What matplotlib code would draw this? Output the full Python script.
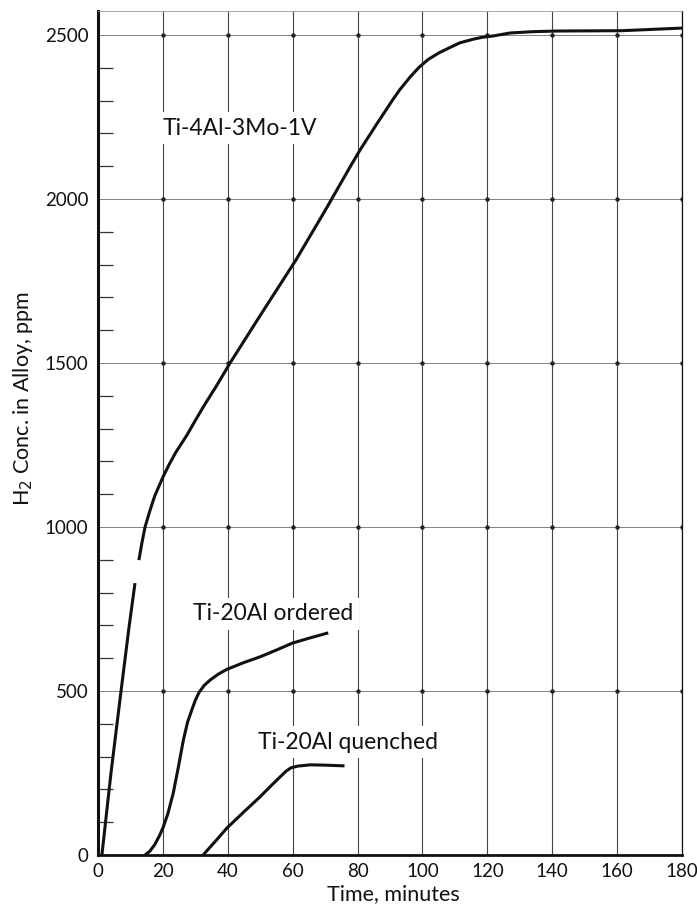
"""H2 uptake of titanium alloys versus time (recreated scanned chart)."""

import matplotlib
matplotlib.use("Agg")
import matplotlib.pyplot as plt
import numpy as np

# Ti-4Al-3Mo-1V, with the small break in the trace near 850 ppm
ti4al_time = [1.2, 4.0, 7.1, 9.5, 11.4, np.nan,
              12.6, 13.5, 14.5, 16.0, 17.5, 20.0, 22.0, 24.0, 27.4, 30.0,
              33.0, 36.5, 40.7, 50.0, 61.0, 70.0, 77.7, 80.8, 86.0, 91.0,
              93.0, 96.2, 98.8, 101.7, 105.0, 108.5, 111.5, 115.6, 118.5,
              121.8, 127.0, 134.0, 141.5, 161.5, 180.0]
ti4al_conc = [0, 250, 500, 690, 829, np.nan,
              899, 950, 1000, 1050, 1095, 1152, 1192, 1228, 1280, 1325,
              1375, 1430, 1500, 1645, 1814, 1965, 2098, 2150, 2230, 2305,
              2333, 2372, 2400, 2425, 2445, 2462, 2476, 2487, 2493,
              2497, 2506, 2510, 2512, 2513, 2521]

ordered_time = [14.5, 16.0, 17.5, 19.0, 20.1, 21.5, 23.2, 24.8, 26.3,
                27.6, 28.9, 30.0, 31.1, 32.7, 34.5, 37.0, 39.7, 45.0,
                49.9, 55.0, 59.9, 65.0, 70.5]
ordered_conc = [0, 12, 32, 60, 85, 125, 189, 270, 350,
                405, 442, 472, 495, 517, 533, 551, 566, 587,
                604, 625, 646, 661, 676]

quenched_time = [32.4, 34.0, 36.0, 39.7, 45.0, 49.9, 53.0, 56.1, 58.0,
                 59.5, 61.5, 65.4, 70.0, 75.5]
quenched_conc = [0, 18, 40, 82, 132, 177, 208, 238, 256,
                 266, 271, 275, 274, 272]

x_ticks = [0, 20, 40, 60, 80, 100, 120, 140, 160, 180]
x_tick_labels = ["0", "20", "40", "60", "80", "100", "120", "140", "160", "180"]
y_ticks = [0, 500, 1000, 1500, 2000, 2500]

labels = [
    ("Ti-4Al-3Mo-1V", 20.0, 2216),
    ("Ti-20Al ordered", 29.3, 735),
    ("Ti-20Al quenched", 49.3, 344),
]

plt.rcParams["font.family"] = ["Lato", "DejaVu Sans"]

fig = plt.figure(figsize=(6.97, 9.10), dpi=100)
ax = fig.add_axes([0.1406, 0.0604, 0.838, 0.9275])

ink = "#111111"
ax.plot(ti4al_time, ti4al_conc, color=ink, linewidth=2.2,
        solid_capstyle="butt", zorder=4)
ax.plot(ordered_time, ordered_conc, color=ink, linewidth=2.2, zorder=4)
ax.plot(quenched_time, quenched_conc, color=ink, linewidth=2.2, zorder=4)

# grid with the small dots the printed graph paper shows at crossings
for xv in x_ticks[1:]:
    ax.axvline(xv, color="#444444", linewidth=0.8, zorder=0)
for yv in y_ticks[1:]:
    ax.axhline(yv, color="#808080", linewidth=0.7, zorder=0)
gx, gy = np.meshgrid(x_ticks[1:], y_ticks[1:])
ax.plot(gx.ravel(), gy.ravel(), linestyle="none", marker="o",
        markersize=2.2, color="#222222", zorder=1)

for text, xv, yv in labels:
    ax.text(xv, yv, text, fontsize=16.5, color=ink, ha="left", va="center",
            bbox=dict(facecolor="white", edgecolor="none", pad=4), zorder=2)

ax.set_xlim(0, 180)
ax.set_ylim(0, 2573)
ax.set_xticks(x_ticks)
ax.set_xticklabels(x_tick_labels)
ax.set_yticks(y_ticks)
ax.set_yticks(np.arange(100, 2600, 100), minor=True)
ax.tick_params(axis="x", length=0, labelsize=13.5, pad=6, colors=ink)
ax.tick_params(axis="y", which="major", length=0, labelsize=13.5, pad=7, colors=ink)
ax.tick_params(axis="y", which="minor", direction="in", length=11,
               width=0.9, color="#333333")

ax.spines["left"].set_linewidth(2.2)
ax.spines["bottom"].set_linewidth(2.0)
ax.spines["right"].set_linewidth(0.9)
ax.spines["top"].set_linewidth(0.6)
ax.spines["top"].set_color("#999999")
for side in ("left", "bottom", "right"):
    ax.spines[side].set_color(ink)

ax.set_xlabel("Time, minutes", fontsize=15.5, color=ink)
ax.set_ylabel("H$_2$ Conc. in Alloy, ppm", fontsize=15.5, color=ink)
ax.xaxis.set_label_coords(0.505, -0.034)
ax.yaxis.set_label_coords(-0.108, 0.541)

fig.savefig("out.png", dpi=100, facecolor="white")
